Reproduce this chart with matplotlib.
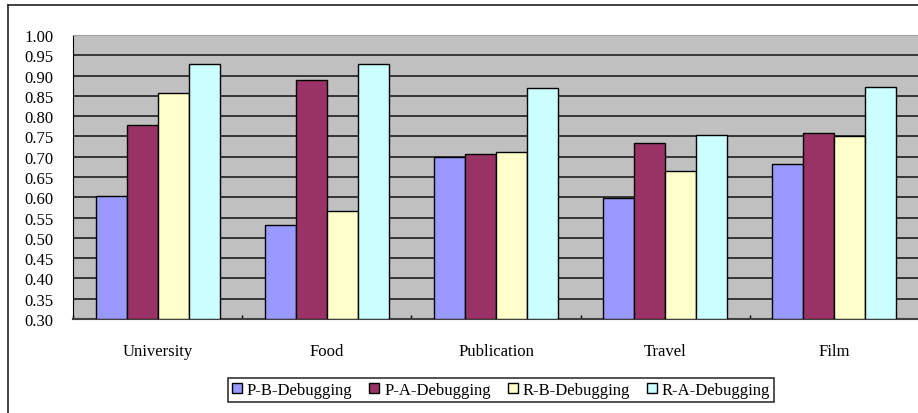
import numpy as np
import matplotlib
matplotlib.use("Agg")
import matplotlib.pyplot as plt
from matplotlib.patches import Patch
from matplotlib.lines import Line2D

categories = ["University", "Food", "Publication", "Travel", "Film"]
series_names = ["P-B-Debugging", "P-A-Debugging", "R-B-Debugging", "R-A-Debugging"]
p_b = [0.604, 0.532, 0.699, 0.598, 0.682]
p_a = [0.778, 0.889, 0.707, 0.734, 0.758]
r_b = [0.856, 0.567, 0.711, 0.666, 0.750]
r_a = [0.929, 0.929, 0.869, 0.754, 0.873]
y_ticks = [0.30, 0.35, 0.40, 0.45, 0.50, 0.55, 0.60, 0.65, 0.70, 0.75,
           0.80, 0.85, 0.90, 0.95, 1.00]

colors = ["#9999FF", "#993366", "#FFFFCC", "#CCFFFF"]
plt.rcParams["font.family"] = ["Liberation Serif", "DejaVu Serif"]

fig = plt.figure(figsize=(9.18, 4.14), dpi=100)
ax = fig.add_axes([73 / 918, 1 - 320 / 414, 846 / 918, 284 / 414])
ax.set_facecolor("#C0C0C0")

x = np.arange(len(categories))
width = 0.183
series = [p_b, p_a, r_b, r_a]
for i, (vals, c) in enumerate(zip(series, colors)):
    offs = (i - 1.5) * width
    ax.bar(x + offs, np.array(vals) - 0.30, width, bottom=0.30, color=c,
           edgecolor="black", linewidth=1.0, zorder=3)

ax.set_xlim(-0.5, len(categories) - 0.5)
ax.set_ylim(0.30, 1.00)
ax.set_yticks(y_ticks)
ax.set_yticklabels([f"{v:.2f}" for v in y_ticks], fontsize=12)
ax.yaxis.grid(True, color="#111111", linewidth=1.1, zorder=1)
ax.set_axisbelow(True)
ax.tick_params(axis="y", length=0, pad=14)

ax.set_xticks(x)
ax.set_xticklabels(categories, fontsize=12)
ax.tick_params(axis="x", length=0, pad=17)
ax.set_xticks(np.arange(len(categories) + 1) - 0.5, minor=True)
ax.tick_params(axis="x", which="minor", direction="in", length=3, width=1, color="black")

ax.spines["top"].set_color("#A0A0A0")
ax.spines["right"].set_visible(False)
ax.spines["left"].set_color("black")
ax.spines["bottom"].set_color("#404040")
ax.spines["bottom"].set_linewidth(1.5)

# Outer chart frame (left and top edges)
fig.add_artist(Line2D([7.5 / 918, 7.5 / 918], [0, 1 - 5.5 / 414], color="#222222",
                      linewidth=1.2, transform=fig.transFigure))
fig.add_artist(Line2D([7.5 / 918, 1], [1 - 5.5 / 414, 1 - 5.5 / 414], color="#222222",
                      linewidth=1.2, transform=fig.transFigure))

handles = [Patch(facecolor=c, edgecolor="black", linewidth=1.0) for c in colors]
leg = fig.legend(handles, series_names, loc="center", ncol=4,
                 bbox_to_anchor=(501 / 918, 1 - 391 / 414), fontsize=12,
                 frameon=True, fancybox=False, edgecolor="black",
                 handlelength=0.6, handleheight=0.6, handletextpad=0.3,
                 columnspacing=1.0, borderpad=0.25, borderaxespad=0)
leg.get_frame().set_linewidth(1.2)

fig.savefig("out.png", dpi=100)
